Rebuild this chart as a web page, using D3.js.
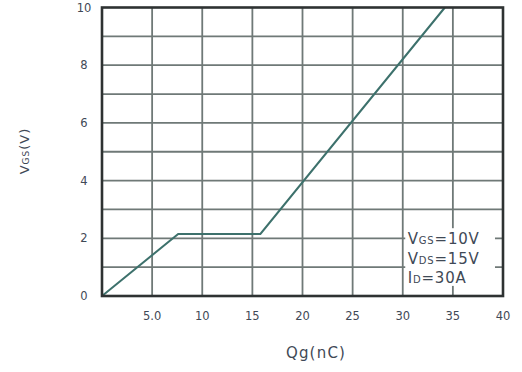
<!DOCTYPE html>
<html>
<head>
<meta charset="utf-8">
<script src="https://cdn.jsdelivr.net/npm/d3@7"></script>
<style>
  body { margin: 0; background: #fff; }
  text { font-family: "DejaVu Sans", sans-serif; fill: #3f4956; }
</style>
</head>
<body>
<div class="chart"></div>
<script>
// curve (gate charge vs gate voltage)
const qg = [0, 7.6, 15.8, 34.2];
const vgs = [0, 2.15, 2.15, 10];

// tick values
const xTicks = [5, 10, 15, 20, 25, 30, 35, 40];
const xTickLabels = ["5.0", "10", "15", "20", "25", "30", "35", "40"];
const yTicks = [0, 2, 4, 6, 8, 10];
const yGrid = d3.range(1, 10);

// legend lines: [main, subscript, rest]
const legendLines = [["V", "GS", "=10V"], ["V", "DS", "=15V"], ["I", "D", "=30A"]];

let width = 522;
let height = 372;
let plotLeft = 102, plotRight = 503, plotTop = 7.5, plotBottom = 296;

let x = d3.scaleLinear().domain([0, 40]).range([plotLeft, plotRight]);
let y = d3.scaleLinear().domain([0, 10]).range([plotBottom, plotTop]);

let graph = d3
  .select(".chart")
  .append("svg")
  .attr("width", width)
  .attr("height", height);

// grid
let grid = graph.append("g").attr("id", "grid");
grid
  .selectAll("line.v")
  .data(xTicks.slice(0, -1))
  .enter()
  .append("line")
  .attr("class", "v")
  .attr("x1", d => x(d))
  .attr("x2", d => x(d))
  .attr("y1", plotTop)
  .attr("y2", plotBottom)
  .attr("stroke", "#6f7977")
  .attr("stroke-width", 1.8);

grid
  .selectAll("line.h")
  .data(yGrid)
  .enter()
  .append("line")
  .attr("class", "h")
  .attr("x1", plotLeft)
  .attr("x2", plotRight)
  .attr("y1", d => y(d))
  .attr("y2", d => y(d))
  .attr("stroke", "#6f7977")
  .attr("stroke-width", 1.8);

// white box behind the test conditions
graph
  .append("rect")
  .attr("x", x(30) + 2.5)
  .attr("y", y(2.35))
  .attr("width", x(39.2) - x(30) - 2.5)
  .attr("height", y(0.35) - y(2.35))
  .attr("fill", "#fff");

// curve
let line = d3
  .line()
  .x(d => x(d[0]))
  .y(d => y(d[1]));

graph
  .append("path")
  .datum(qg.map((q, i) => [q, vgs[i]]))
  .attr("d", line)
  .attr("fill", "none")
  .attr("stroke", "#3d716c")
  .attr("stroke-width", 2);

// frame
graph
  .append("rect")
  .attr("x", plotLeft)
  .attr("y", plotTop)
  .attr("width", plotRight - plotLeft)
  .attr("height", plotBottom - plotTop)
  .attr("fill", "none")
  .attr("stroke", "#2e3232")
  .attr("stroke-width", 2.6);

// tick labels
graph
  .append("g")
  .selectAll("text")
  .data(yTicks)
  .enter()
  .append("text")
  .attr("x", 84)
  .attr("y", d => y(d) + 4)
  .attr("text-anchor", "middle")
  .style("font-size", "11.5px")
  .text(d => d);

graph
  .append("g")
  .selectAll("text")
  .data(xTicks)
  .enter()
  .append("text")
  .attr("x", d => x(d))
  .attr("y", 320)
  .attr("text-anchor", "middle")
  .style("font-size", "11.5px")
  .text((d, i) => xTickLabels[i]);

// legend text
let legend = graph.append("g").attr("id", "legend");
legendLines.forEach((l, i) => {
  let t = legend
    .append("text")
    .attr("x", x(30) + 5)
    .attr("y", 244 + i * 19.5)
    .style("font-size", "15px")
    .style("letter-spacing", "0.8px");
  t.append("tspan").text(l[0]);
  t.append("tspan").style("font-size", "10px").text(l[1]);
  t.append("tspan").text(l[2]);
});

// axis titles
graph
  .append("text")
  .attr("x", 316)
  .attr("y", 358)
  .attr("text-anchor", "middle")
  .style("font-size", "15px")
  .style("letter-spacing", "1.2px")
  .text("Qg(nC)");

let yTitle = graph
  .append("text")
  .attr("transform", "translate(29,151) rotate(-90)")
  .attr("text-anchor", "middle")
  .style("font-size", "13px")
  .style("letter-spacing", "1px");
yTitle.append("tspan").text("V");
yTitle.append("tspan").style("font-size", "9px").text("GS");
yTitle.append("tspan").text("(V)");
</script>
</body>
</html>
